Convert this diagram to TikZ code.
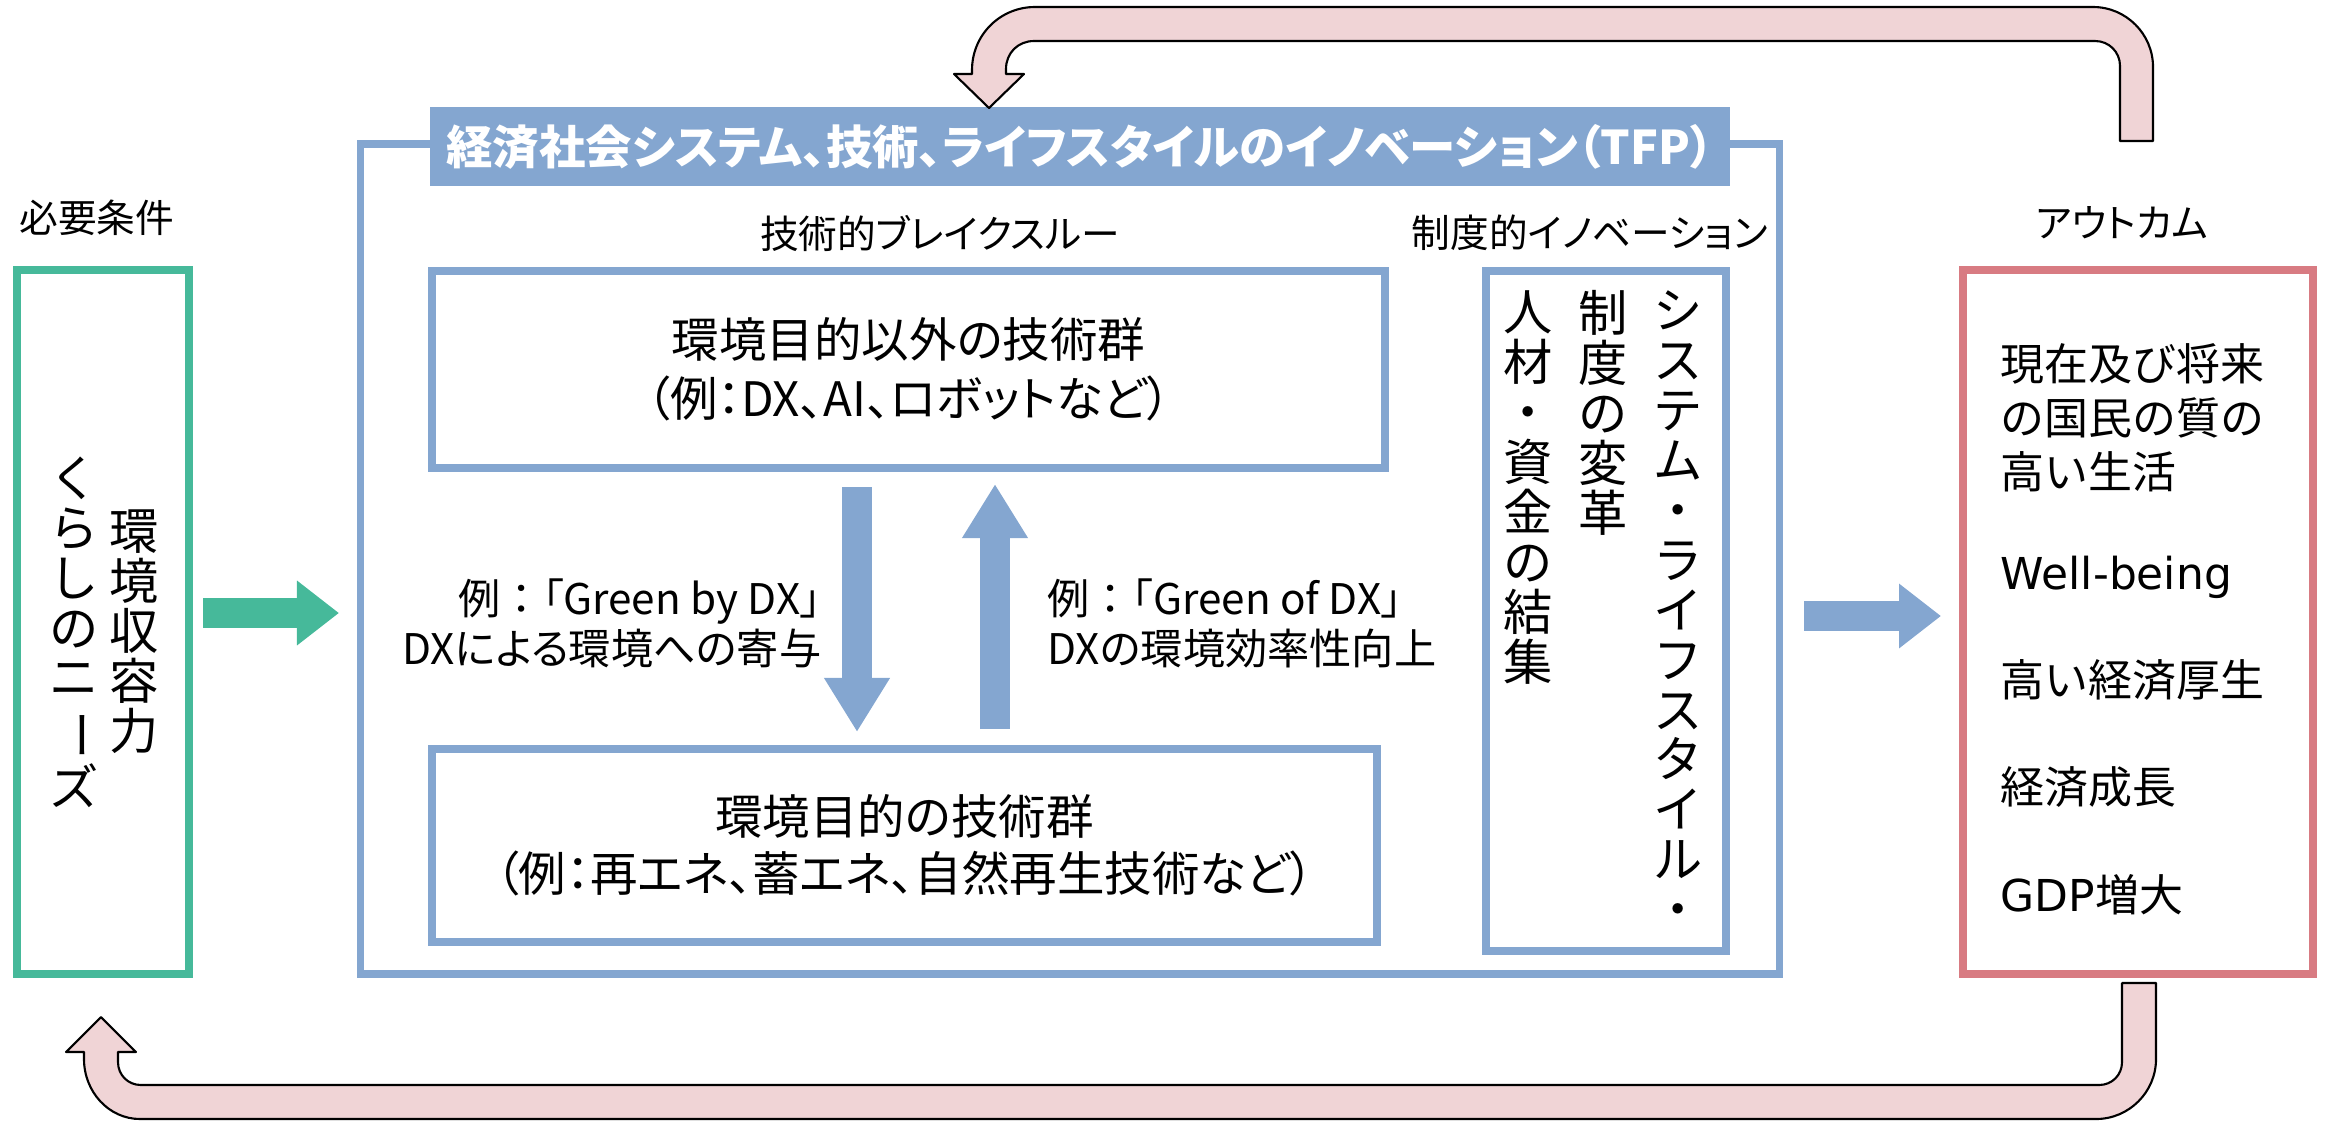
\documentclass[tikz,border=0pt]{standalone}
\usepackage{fontspec}
\usepackage{graphicx}
\setmainfont{Noto Sans CJK JP}
\newfontfamily\uifont[RawFeature=+palt]{Noto Sans CJK JP}
\newfontfamily\latinfont{DejaVu Sans}
\usetikzlibrary{arrows.meta}
\definecolor{kBlue}{RGB}{132,166,208}
\definecolor{kGreen}{RGB}{70,185,154}
\definecolor{kRed}{RGB}{216,123,130}
\definecolor{kPink}{RGB}{240,212,214}
\newcommand{\tatebo}{\rotatebox[origin=c]{-90}{ー}}
\newcommand{\lat}[1]{{\latinfont #1}}
\newcommand{\rei}{{\normalfont 例：}「}

\begin{document}
\begin{tikzpicture}[x=0.01cm, y=-0.01cm,
    frame/.style={draw=#1, line width=2.2pt, inner sep=0pt, align=center},
    head/.style={inner sep=0pt, font=\uifont\fontsize{11}{13}\selectfont},
    tate/.style={inner sep=0pt, align=center, font=\fontsize{14}{14.2}\selectfont},
    label/.style={inner sep=0pt, font=\uifont\fontsize{12}{14.2}\selectfont},
    outtext/.style={inner sep=0pt, anchor=west, text height=0.88em, text depth=0.12em, font=\fontsize{12.5}{15.4}\selectfont},
    fat/.style={draw=#1, line width=0.3cm},
    tipH/.style={-{Triangle[length=0.42cm, width=0.62cm]}},
    tipV/.style={-{Triangle[length=0.54cm, width=0.62cm]}},
    uturn/.style={fill=kPink, draw=black, line width=0.6pt, line join=round}]
    \useasboundingbox (0,0) rectangle (2328,1121);

    \node[frame=kGreen, minimum width=1.72cm, minimum height=7.04cm] (needs) at (103,622) {};
    \node[tate] (kankyo) at (134,632) {環\\境\\収\\容\\力};
    \node[tate] (kurashi) at (74,632) {く\\ら\\し\\の\\ニ\\\tatebo\\ズ};
    \node[head] (needhd) at (97,218) {必要条件};

    \node[frame=kBlue, minimum width=14.18cm, minimum height=8.30cm] (innov) at (1070,559) {};
    \node[fill=kBlue, inner sep=0pt, minimum width=13.00cm, minimum height=0.79cm, text=white,
        font=\uifont\bfseries\fontsize{13.2}{15}\selectfont] (tfp) at (1080,146.5)
        {経済社会システム、技術、ライフスタイルのイノベーション（TFP）};
    \node[head] (brk) at (940,233) {技術的ブレイクスルー};
    \node[head] (inst) at (1590,233) {制度的イノベーション};

    \node[frame=kBlue, minimum width=9.53cm, minimum height=1.97cm,
        font=\uifont\fontsize{13.5}{16.8}\selectfont] (nonenv) at (908.5,369.5)
        {環境目的以外の技術群\\（例：DX、AI、ロボットなど）};
    \node[frame=kBlue, minimum width=9.45cm, minimum height=1.93cm,
        font=\uifont\fontsize{13.5}{16.2}\selectfont] (envtech) at (904.5,845.5)
        {環境目的の技術群\\（例：再エネ、蓄エネ、自然再生技術など）};
    \node[label, anchor=east, align=right] (byDX) at (822,623) {\rei Green by DX」\\DXによる環境への寄与};
    \node[label, anchor=west, align=left] (ofDX) at (1047,623) {\rei Green of DX」\\DXの環境効率性向上};

    \node[frame=kBlue, minimum width=2.40cm, minimum height=6.80cm] (instbox) at (1606,611) {};
    \node[tate, anchor=north] (sys) at (1678,290) {シ\\ス\\テ\\ム\\・\\ラ\\イ\\フ\\ス\\タ\\イ\\ル\\・};
    \node[tate, anchor=north] (seido) at (1603,290) {制\\度\\の\\変\\革};
    \node[tate, anchor=north] (jinzai) at (1528,290) {人\\材\\・\\資\\金\\の\\結\\集};

    \node[frame=kRed, minimum width=3.50cm, minimum height=7.04cm] (outc) at (2138,622) {};
    \node[head] (outhd) at (2122,223) {アウトカム};
    \node[inner sep=0pt, anchor=north west, align=left, font=\fontsize{12.5}{15.4}\selectfont] (out0) at (2000,343)
        {現在及び将来\\の国民の質の\\高い生活};
    \foreach \t [count=\i] in {\lat{Well-being}, 高い経済厚生, 経済成長, \lat{GDP}増大}
        \node[outtext] (out\i) at (2000,{468.7+107.3*\i}) {\t};

    \coordinate (gA) at (203,613);
    \coordinate (gB) at (339,613);
    \coordinate (bA) at (1804,616);
    \coordinate (bB) at (1941,616);
    \coordinate (dnA) at (857,487);
    \coordinate (dnB) at (857,732);
    \coordinate (upA) at (995,729);
    \coordinate (upB) at (995,484);
    \draw[fat=kGreen, tipH] (gA) -- (gB);
    \draw[fat=kBlue, tipH] (bA) -- (bB);
    \draw[fat=kBlue, tipV] (dnA) -- (dnB);
    \draw[fat=kBlue, tipV] (upA) -- (upB);

    \draw[uturn] (2153,141) -- (2153,67)
        .. controls (2153,34) and (2126,7) .. (2093,7) -- (1035,7)
        .. controls (1000,7) and (972,35) .. (972,70)
        -- (972,74) -- (954,74) -- (989,108) -- (1024,74) -- (1006,74) -- (1006,69)
        .. controls (1006,53) and (1018,41) .. (1034,41) -- (2095,41)
        .. controls (2109,41) and (2120,52) .. (2120,66) -- (2120,141) -- cycle;
    \draw[uturn] (2122,983) -- (2156,983) -- (2156,1059)
        .. controls (2156,1092) and (2129,1119) .. (2096,1119) -- (140,1119)
        .. controls (109,1119) and (84,1092) .. (84,1059)
        -- (84,1052) -- (66,1052) -- (101,1017) -- (136,1052) -- (118,1052) -- (118,1062)
        .. controls (118,1075) and (128,1085) .. (141,1085) -- (2099,1085)
        .. controls (2112,1085) and (2122,1075) .. (2122,1062) -- cycle;
\end{tikzpicture}
\end{document}
